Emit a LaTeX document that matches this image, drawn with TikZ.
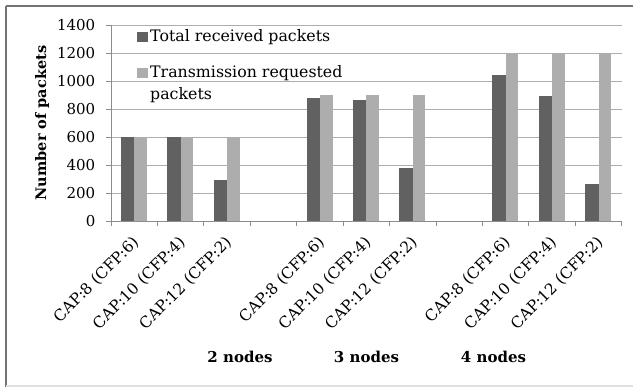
\documentclass[tikz,border=0pt]{standalone}
\usepackage{fontspec}
\setmainfont{DejaVu Serif}
\begin{document}
\begin{tikzpicture}[x=1pt,y=-1pt,
  grid/.style={draw=black!32,line width=0.9pt},
  axisline/.style={draw=black!45,line width=0.9pt},
  darkbar/.style={fill=black!62,draw=none},
  lightbar/.style={fill=black!32,draw=none},
  ticklab/.style={font=\fontsize{15}{15}\selectfont,anchor=east,inner sep=0pt},
  catlab/.style={font=\fontsize{15.5}{15}\selectfont,anchor=east,inner sep=0pt,rotate=45},
  grouplab/.style={font=\bfseries\fontsize{15}{15}\selectfont,inner sep=0pt},
  legtext/.style={font=\fontsize{15.8}{22}\selectfont,anchor=west,inner sep=0pt,align=left}
]
\useasboundingbox (0,0) rectangle (633,387);
\fill[white] (0,0) rectangle (633,387);
% frame
\draw[black!55,line width=1.8pt] (6,6) -- (633,6);
\draw[black!55,line width=1.8pt] (6,6) -- (6,387);
\draw[black!12,line width=1.2pt] (6,386) -- (633,386);
% gridlines
\foreach \v in {200,400,...,1400}
  \draw[grid] (111,{221-0.14*\v}) -- (621.7,{221-0.14*\v});
% bars
\foreach \i/\d/\l in {1/600/600,2/600/600,3/290/600,5/880/900,6/865/900,7/375/900,9/1045/1200,10/890/1200,11/262/1200}{
  \pgfmathsetmacro{\c}{111+46.43*(\i-0.5)}
  \fill[darkbar] ({\c-13.4},221) rectangle (\c,{221-0.14*\d});
  \fill[lightbar] (\c,221) rectangle ({\c+12.6},{221-0.14*\l});
}
% axes
\draw[axisline] (111,25) -- (111,221) -- (621.7,221);
\foreach \v in {0,200,...,1400}{
  \draw[axisline] (106,{221-0.14*\v}) -- (111,{221-0.14*\v});
  \node[ticklab] (yl\v) at (95.5,{221-0.14*\v}) {\v};
}
\foreach \k in {0,...,11}
  \draw[axisline] ({111+46.43*\k},221) -- ({111+46.43*\k},226);
% category labels
\foreach \i/\t in {1/CAP:8 (CFP:6),2/CAP:10 (CFP:4),3/CAP:12 (CFP:2),5/CAP:8 (CFP:6),6/CAP:10 (CFP:4),7/CAP:12 (CFP:2),9/CAP:8 (CFP:6),10/CAP:10 (CFP:4),11/CAP:12 (CFP:2)}{
  \pgfmathsetmacro{\c}{111+46.43*(\i-0.5)}
  \node[catlab] (cl\i) at ({\c+2},240) {\t};
}
% group labels
\node[grouplab] (g2) at (240,357) {2 nodes};
\node[grouplab] (g3) at (366.5,357) {3 nodes};
\node[grouplab] (g4) at (493.5,357) {4 nodes};
% y axis title
\node[font=\bfseries\fontsize{14.5}{15}\selectfont,rotate=90,inner sep=0pt] (ytitle) at (42,123) {Number of packets};
% legend
\fill[darkbar] (136.5,32) rectangle (147.5,42);
\node[legtext] (leg1) at (150,37) {Total received packets};
\fill[lightbar] (136.5,68) rectangle (147.5,78);
\node[legtext,anchor=north west] (leg2) at (150,65) {Transmission requested\\packets};
\end{tikzpicture}
\end{document}
